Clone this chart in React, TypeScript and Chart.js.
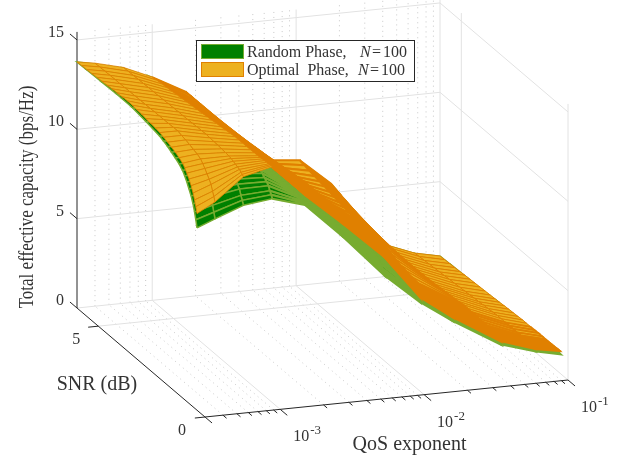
import { useEffect, useRef } from "react";
import { Chart, registerables } from "chart.js";

Chart.register(...registerables);

// ---------- axis data ----------
const QOS_MIN = 3e-4;
const QOS_MAX = 0.1;
const SNR_MAX = 6;
const Z_MAX = 15.45;
const zTicks = [0, 5, 10, 15];
const snrTicks = [0, 5];
const qosMajor = [1e-3, 1e-2];
const qosMinor = [
  4e-4, 5e-4, 6e-4, 7e-4, 8e-4, 9e-4,
  2e-3, 3e-3, 4e-3, 5e-3, 6e-3, 7e-3, 8e-3, 9e-3,
  2e-2, 3e-2, 4e-2, 5e-2, 6e-2, 7e-2, 8e-2, 9e-2,
];

// ---------- surface samples ----------
const qosSamples = [3e-4, 4e-4, 6.3e-4, 1e-3, 1.7e-3, 3e-3, 6e-3, 0.0106, 0.0175, 0.0384, 0.0665, 0.1];
const optimalSnr = [
  0.375, 0.43, 0.49, 0.56, 0.65, 0.75, 0.85, 0.95, 1.05, 1.21, 1.39, 1.57, 1.75, 1.94, 2.12, 2.33,
  2.55, 2.77, 2.98, 3.2, 3.41, 3.64, 3.88, 4.12, 4.36, 4.59, 4.83, 5.06, 5.3, 5.54, 5.78, 6,
];
const randomSnr = [
  0.375, 0.43, 0.49, 0.56, 0.65, 0.75, 0.85, 0.95, 1.05, 1.21, 1.39, 1.57, 1.75, 1.94, 2.12,
  2.77, 3.41, 4.12, 4.83, 5.54, 6,
];
// one list per QoS sample, running along optimalSnr
const optimalCapacity = [
  [11, 11.33, 11.65, 11.96, 12.28, 12.55, 12.78, 12.98, 13.13, 13.28, 13.4, 13.5, 13.6, 13.68, 13.76, 13.8, 13.84, 13.88, 13.92, 13.95, 13.98, 13.99, 13.97, 13.95, 13.93, 13.9, 13.88, 13.86, 13.83, 13.81, 13.79, 13.77],
  [11.55, 11.79, 12.03, 12.34, 12.54, 12.74, 12.94, 13.11, 13.27, 13.38, 13.46, 13.55, 13.62, 13.68, 13.75, 13.74, 13.73, 13.72, 13.71, 13.71, 13.7, 13.69, 13.68, 13.67, 13.66, 13.65, 13.64, 13.64, 13.63, 13.62, 13.61, 13.6],
  [12.8, 12.87, 12.93, 13.02, 13.07, 13.12, 13.18, 13.23, 13.27, 13.3, 13.32, 13.35, 13.36, 13.38, 13.4, 13.39, 13.38, 13.36, 13.35, 13.34, 13.33, 13.32, 13.31, 13.29, 13.28, 13.27, 13.26, 13.25, 13.24, 13.22, 13.21, 13.2],
  [13.2, 13.19, 13.18, 13.16, 13.16, 13.15, 13.14, 13.13, 13.12, 13.12, 13.11, 13.11, 13.11, 13.1, 13.1, 13.06, 13.03, 12.99, 12.96, 12.92, 12.89, 12.85, 12.82, 12.78, 12.75, 12.71, 12.68, 12.64, 12.61, 12.57, 12.54, 12.5],
  [11.4, 11.41, 11.41, 11.42, 11.42, 11.43, 11.43, 11.44, 11.44, 11.44, 11.44, 11.45, 11.45, 11.45, 11.45, 11.45, 11.46, 11.46, 11.46, 11.46, 11.47, 11.47, 11.47, 11.47, 11.48, 11.48, 11.48, 11.49, 11.49, 11.49, 11.5, 11.5],
  [9.7, 9.76, 9.81, 9.88, 9.93, 9.97, 10.02, 10.06, 10.09, 10.12, 10.14, 10.16, 10.17, 10.19, 10.2, 10.16, 10.12, 10.08, 10.04, 9.99, 9.95, 9.91, 9.87, 9.83, 9.79, 9.75, 9.71, 9.66, 9.62, 9.58, 9.54, 9.5],
  [7.5, 7.54, 7.59, 7.64, 7.68, 7.72, 7.75, 7.78, 7.81, 7.83, 7.85, 7.86, 7.88, 7.89, 7.9, 7.86, 7.82, 7.78, 7.74, 7.69, 7.65, 7.61, 7.57, 7.53, 7.49, 7.45, 7.41, 7.36, 7.32, 7.28, 7.24, 7.2],
  [5.06, 5.16, 5.27, 5.4, 5.48, 5.57, 5.65, 5.73, 5.79, 5.84, 5.88, 5.92, 5.94, 5.97, 6, 6.06, 6.12, 6.18, 6.24, 6.29, 6.35, 6.41, 6.47, 6.53, 6.59, 6.65, 6.71, 6.76, 6.82, 6.88, 6.94, 7],
  [3.8, 3.82, 3.84, 3.87, 3.89, 3.91, 3.93, 3.94, 3.96, 3.97, 3.97, 3.98, 3.99, 3.99, 4, 4.09, 4.18, 4.26, 4.35, 4.44, 4.53, 4.62, 4.71, 4.79, 4.88, 4.97, 5.06, 5.15, 5.24, 5.32, 5.41, 5.5],
  [2.14, 2.17, 2.2, 2.23, 2.26, 2.28, 2.3, 2.32, 2.34, 2.36, 2.37, 2.38, 2.38, 2.39, 2.4, 2.37, 2.34, 2.31, 2.28, 2.25, 2.22, 2.19, 2.16, 2.14, 2.11, 2.08, 2.05, 2.02, 1.99, 1.96, 1.93, 1.9],
  [1.5, 1.51, 1.52, 1.54, 1.55, 1.55, 1.56, 1.57, 1.58, 1.58, 1.59, 1.59, 1.59, 1.6, 1.6, 1.57, 1.55, 1.52, 1.49, 1.47, 1.44, 1.41, 1.39, 1.36, 1.34, 1.31, 1.28, 1.26, 1.23, 1.2, 1.18, 1.15],
  [1.24, 1.24, 1.23, 1.23, 1.22, 1.22, 1.21, 1.21, 1.21, 1.21, 1.21, 1.2, 1.2, 1.2, 1.2, 1.18, 1.16, 1.14, 1.12, 1.09, 1.07, 1.05, 1.03, 1.01, 0.99, 0.97, 0.95, 0.92, 0.9, 0.88, 0.86, 0.84],
];
// one list per QoS sample, running along randomSnr
const randomCapacity = [
  [10.2, 10.6, 10.98, 11.35, 11.7, 12.0, 12.28, 12.52, 12.72, 12.92, 13.08, 13.22, 13.35, 13.46, 13.56, 13.72, 13.85, 13.86, 13.82, 13.79, 13.77],
  [10.6, 10.92, 11.24, 11.64, 11.91, 12.17, 12.43, 12.66, 12.86, 13.01, 13.12, 13.24, 13.33, 13.41, 13.5, 13.51, 13.52, 13.53, 13.54, 13.54, 13.55],
  [11.2, 11.42, 11.64, 11.92, 12.1, 12.28, 12.46, 12.62, 12.76, 12.86, 12.94, 13.02, 13.08, 13.14, 13.2, 13.19, 13.18, 13.17, 13.16, 13.16, 13.15],
  [11.4, 11.57, 11.73, 11.94, 12.08, 12.21, 12.35, 12.47, 12.57, 12.65, 12.71, 12.77, 12.81, 12.86, 12.9, 12.82, 12.74, 12.66, 12.58, 12.5, 12.45],
  [10.86, 10.91, 10.96, 11.02, 11.06, 11.1, 11.14, 11.17, 11.2, 11.23, 11.24, 11.26, 11.27, 11.29, 11.3, 11.33, 11.35, 11.38, 11.41, 11.43, 11.45],
  [9, 9.11, 9.22, 9.36, 9.45, 9.54, 9.63, 9.71, 9.78, 9.83, 9.87, 9.91, 9.94, 9.97, 10, 9.9, 9.81, 9.71, 9.61, 9.51, 9.45],
  [6.5, 6.63, 6.76, 6.93, 7.04, 7.15, 7.26, 7.35, 7.44, 7.5, 7.54, 7.59, 7.63, 7.66, 7.7, 7.6, 7.51, 7.41, 7.31, 7.22, 7.15],
  [4.8, 4.92, 5.04, 5.2, 5.3, 5.39, 5.49, 5.58, 5.66, 5.71, 5.76, 5.8, 5.83, 5.87, 5.9, 6.08, 6.27, 6.46, 6.64, 6.83, 6.95],
  [3.6, 3.63, 3.67, 3.71, 3.74, 3.76, 3.79, 3.81, 3.83, 3.85, 3.86, 3.87, 3.88, 3.89, 3.9, 4.17, 4.45, 4.72, 5, 5.27, 5.45],
  [1.97, 2.01, 2.04, 2.09, 2.12, 2.15, 2.18, 2.2, 2.23, 2.24, 2.26, 2.27, 2.28, 2.29, 2.3, 2.22, 2.14, 2.06, 1.98, 1.9, 1.85],
  [1.39, 1.4, 1.41, 1.43, 1.44, 1.45, 1.46, 1.47, 1.48, 1.48, 1.49, 1.49, 1.49, 1.5, 1.5, 1.43, 1.36, 1.29, 1.22, 1.15, 1.1],
  [1.07, 1.07, 1.08, 1.08, 1.08, 1.09, 1.09, 1.09, 1.09, 1.09, 1.1, 1.1, 1.1, 1.1, 1.1, 1.05, 1, 0.92, 0.88, 0.83, 0.8],
];

// ---------- view: oblique projection of (QoS, SNR, capacity) onto the page ----------
const W = 633;
const H = 460;
const logMin = Math.log10(QOS_MIN);
const logMax = Math.log10(QOS_MAX);
const uOf = (q: number) => (Math.log10(q) - logMin) / (logMax - logMin);
const place = (u: number, v: number, z: number) => ({
  x: 205 + 363 * u - 128 * v,
  y: 417 - 37 * u - 109 * v - 17.87 * z,
});
const project = (q: number, snr: number, z: number) => place(uOf(q), snr / SNR_MAX, z);

const FONT = '"Liberation Serif", "Times New Roman", serif';
const GRID = "#e2e2e2";
const DOT = "#c8c8c8";
const AXIS = "#262626";
const TEXT = "#333333";
const GREEN_FACE = "#008000";
const GREEN_EDGE = "#77ac30";
const ORANGE_FACE = "#edb120";
const ORANGE_EDGE = "#e08000";

type Pt = { x: number; y: number };

function segment(a: Pt, b: Pt, color: string, width: number, dash: number[] = []) {
  return {
    data: [a, b],
    showLine: true,
    borderColor: color,
    borderWidth: width,
    borderDash: dash,
    pointRadius: 0,
    fill: false,
  };
}

function buildFrame() {
  const out: any[] = [];
  const snrTop = SNR_MAX;
  for (const q of qosMinor) {
    out.push(segment(project(q, snrTop, 0), project(q, snrTop, Z_MAX), DOT, 1, [1, 4]));
    out.push(segment(project(q, 0, 0), project(q, snrTop, 0), DOT, 1, [1, 4]));
  }
  for (const q of [...qosMajor]) {
    out.push(segment(project(q, snrTop, 0), project(q, snrTop, Z_MAX), GRID, 1));
    out.push(segment(project(q, 0, 0), project(q, snrTop, 0), GRID, 1));
  }
  out.push(segment(project(QOS_MAX, snrTop, 0), project(QOS_MAX, snrTop, Z_MAX), GRID, 1));
  for (const z of zTicks) {
    out.push(segment(project(QOS_MIN, snrTop, z), project(QOS_MAX, snrTop, z), GRID, 1));
    out.push(segment(project(QOS_MAX, snrTop, z), project(QOS_MAX, 0, z), GRID, 1));
  }
  for (const s of snrTicks) {
    out.push(segment(project(QOS_MAX, s, 0), project(QOS_MAX, s, Z_MAX), GRID, 1));
    out.push(segment(project(QOS_MIN, s, 0), project(QOS_MAX, s, 0), s === 0 ? AXIS : GRID, 1));
  }
  out.push(segment(project(QOS_MIN, snrTop, 0), project(QOS_MIN, snrTop, Z_MAX), AXIS, 1));
  out.push(segment(project(QOS_MIN, snrTop, 0), project(QOS_MIN, 0, 0), AXIS, 1));
  for (const z of zTicks) {
    const a = project(QOS_MIN, snrTop, z);
    out.push(segment(a, place(0, 1.055, z), AXIS, 1));
  }
  for (const s of snrTicks) {
    out.push(segment(project(QOS_MIN, s, 0), place(-0.028, s / SNR_MAX, 0), AXIS, 1));
  }
  for (const q of [QOS_MIN, ...qosMajor, QOS_MAX]) {
    out.push(segment(project(q, 0, 0), place(uOf(q), -0.055, 0), AXIS, 1));
  }
  for (const q of qosMinor) {
    out.push(segment(project(q, 0, 0), place(uOf(q), -0.028, 0), AXIS, 1));
  }
  return out;
}

function buildSurface(
  snr: number[],
  table: number[][],
  face: string,
  edge: string,
  widthOf: (c: number, r: number) => number,
) {
  const out: any[] = [];
  for (let r = snr.length - 2; r >= 0; r--) {
    for (let c = qosSamples.length - 2; c >= 0; c--) {
      const p1 = project(qosSamples[c], snr[r], table[c][r]);
      const p2 = project(qosSamples[c + 1], snr[r], table[c + 1][r]);
      const p3 = project(qosSamples[c + 1], snr[r + 1], table[c + 1][r + 1]);
      const p4 = project(qosSamples[c], snr[r + 1], table[c][r + 1]);
      out.push({
        data: [p1, p2, p3, p4, p1],
        showLine: true,
        polygonFill: face,
        borderColor: edge,
        borderWidth: widthOf(c, r),
        pointRadius: 0,
        fill: false,
        tension: 0,
      });
    }
  }
  return out;
}

// edge weight stands in for how tightly the mesh lines pack on screen
const optimalWidth = (c: number, r: number) => {
  if (c <= 2) return 0.8;
  if (c === 3) return 1.5;
  if (c <= 7) return 2;
  if (c === 8) return r < 14 ? 2 : 1.2;
  return r < 12 ? 1.8 : 0.9;
};
const randomWidth = (c: number) => (c <= 2 ? 1.5 : c === 3 ? 2 : 2.4);

const polygonPlugin = {
  id: "polygonFill",
  beforeDatasetDraw(chart: any, args: any) {
    const ds = chart.data.datasets[args.index];
    if (!ds.polygonFill) return;
    const pts = args.meta.data;
    const ctx = chart.ctx;
    ctx.save();
    ctx.beginPath();
    pts.forEach((p: any, i: number) => (i ? ctx.lineTo(p.x, p.y) : ctx.moveTo(p.x, p.y)));
    ctx.closePath();
    ctx.fillStyle = ds.polygonFill;
    ctx.fill();
    ctx.restore();
  },
};

function text(ctx: CanvasRenderingContext2D, s: string, x: number, y: number, size: number, style = "") {
  ctx.font = `${style} ${size}px ${FONT}`.trim();
  ctx.fillText(s, x, y);
  return ctx.measureText(s).width;
}

const labelsPlugin = {
  id: "sceneLabels",
  afterDatasetsDraw(chart: any) {
    const ctx: CanvasRenderingContext2D = chart.ctx;
    const sx = (v: number) => chart.scales.x.getPixelForValue(v);
    const sy = (v: number) => chart.scales.y.getPixelForValue(v);
    ctx.save();
    ctx.fillStyle = TEXT;
    ctx.textBaseline = "alphabetic";
    ctx.textAlign = "left";

    for (const z of zTicks) {
      const a = project(QOS_MIN, SNR_MAX, z);
      ctx.textAlign = "right";
      text(ctx, String(z), sx(a.x - 13), sy(a.y - 3), 16);
    }
    ctx.textAlign = "left";
    for (const s of snrTicks) {
      const a = project(QOS_MIN, s, 0);
      text(ctx, String(s), sx(a.x - (s === 0 ? 27 : 26)), sy(a.y + 18), 16);
    }
    for (const q of [...qosMajor, QOS_MAX]) {
      const a = project(q, 0, 0);
      const x = sx(a.x + 13);
      const y = sy(a.y + 32);
      const w = text(ctx, "10", x, y, 16);
      text(ctx, String(Math.round(Math.log10(q))), x + w + 1, y - 7, 13);
    }
    ctx.textAlign = "center";
    text(ctx, "QoS exponent", sx(409.5), sy(450), 20);
    text(ctx, "SNR (dB)", sx(97), sy(390), 20);
    ctx.save();
    ctx.translate(sx(33), sy(197));
    ctx.rotate(-Math.PI / 2);
    ctx.scale(1, 1.18);
    text(ctx, "Total effective capacity (bps/Hz)", 0, 0, 17);
    ctx.restore();

    ctx.textAlign = "left";
    const bx = sx(196), by = sy(40), bw = sx(414) - bx, bh = sy(81) - by;
    ctx.fillStyle = "#ffffff";
    ctx.fillRect(bx, by, bw, bh);
    ctx.strokeStyle = AXIS;
    ctx.lineWidth = 1;
    ctx.strokeRect(bx + 0.5, by + 0.5, bw, bh);
    const rows = [
      { face: GREEN_FACE, edge: GREEN_EDGE, a: "Random Phase,", nx: 360, ex: 372, dx: 383, y: 57, sw: 44 },
      { face: ORANGE_FACE, edge: ORANGE_EDGE, a: "Optimal  Phase,", nx: 358, ex: 370, dx: 381, y: 75, sw: 62 },
    ];
    for (const r of rows) {
      ctx.fillStyle = r.face;
      ctx.strokeStyle = r.edge;
      ctx.fillRect(sx(201), sy(r.sw), 42, 14);
      ctx.strokeRect(sx(201) + 0.5, sy(r.sw) + 0.5, 42, 14);
      ctx.fillStyle = TEXT;
      text(ctx, r.a, sx(247), sy(r.y), 16);
      text(ctx, "N", sx(r.nx), sy(r.y), 16, "italic");
      text(ctx, "=", sx(r.ex), sy(r.y), 16);
      text(ctx, "100", sx(r.dx), sy(r.y), 16);
    }
    ctx.restore();
  },
};

export default function App() {
  const ref = useRef<HTMLCanvasElement>(null);
  useEffect(() => {
    if (!ref.current) return;
    const paintOrder = [
      ...buildFrame(),
      ...buildSurface(randomSnr, randomCapacity, GREEN_FACE, GREEN_EDGE, randomWidth),
      ...buildSurface(optimalSnr, optimalCapacity, ORANGE_FACE, ORANGE_EDGE, optimalWidth),
    ];
    const datasets = paintOrder.reverse();
    const chart = new Chart(ref.current, {
      type: "scatter",
      data: { datasets },
      plugins: [polygonPlugin, labelsPlugin],
      options: {
        responsive: false,
        animation: false,
        layout: { padding: 0 },
        events: [],
        plugins: { legend: { display: false }, tooltip: { enabled: false } },
        scales: {
          x: { type: "linear", min: 0, max: W, display: false },
          y: { type: "linear", min: 0, max: H, reverse: true, display: false },
        },
      },
    } as any);
    return () => chart.destroy();
  }, []);
  return (
    <canvas
      ref={ref}
      width={W}
      height={H}
      style={{ position: "fixed", left: 0, top: 0, width: W, height: H, display: "block", background: "#fff" }}
    />
  );
}
